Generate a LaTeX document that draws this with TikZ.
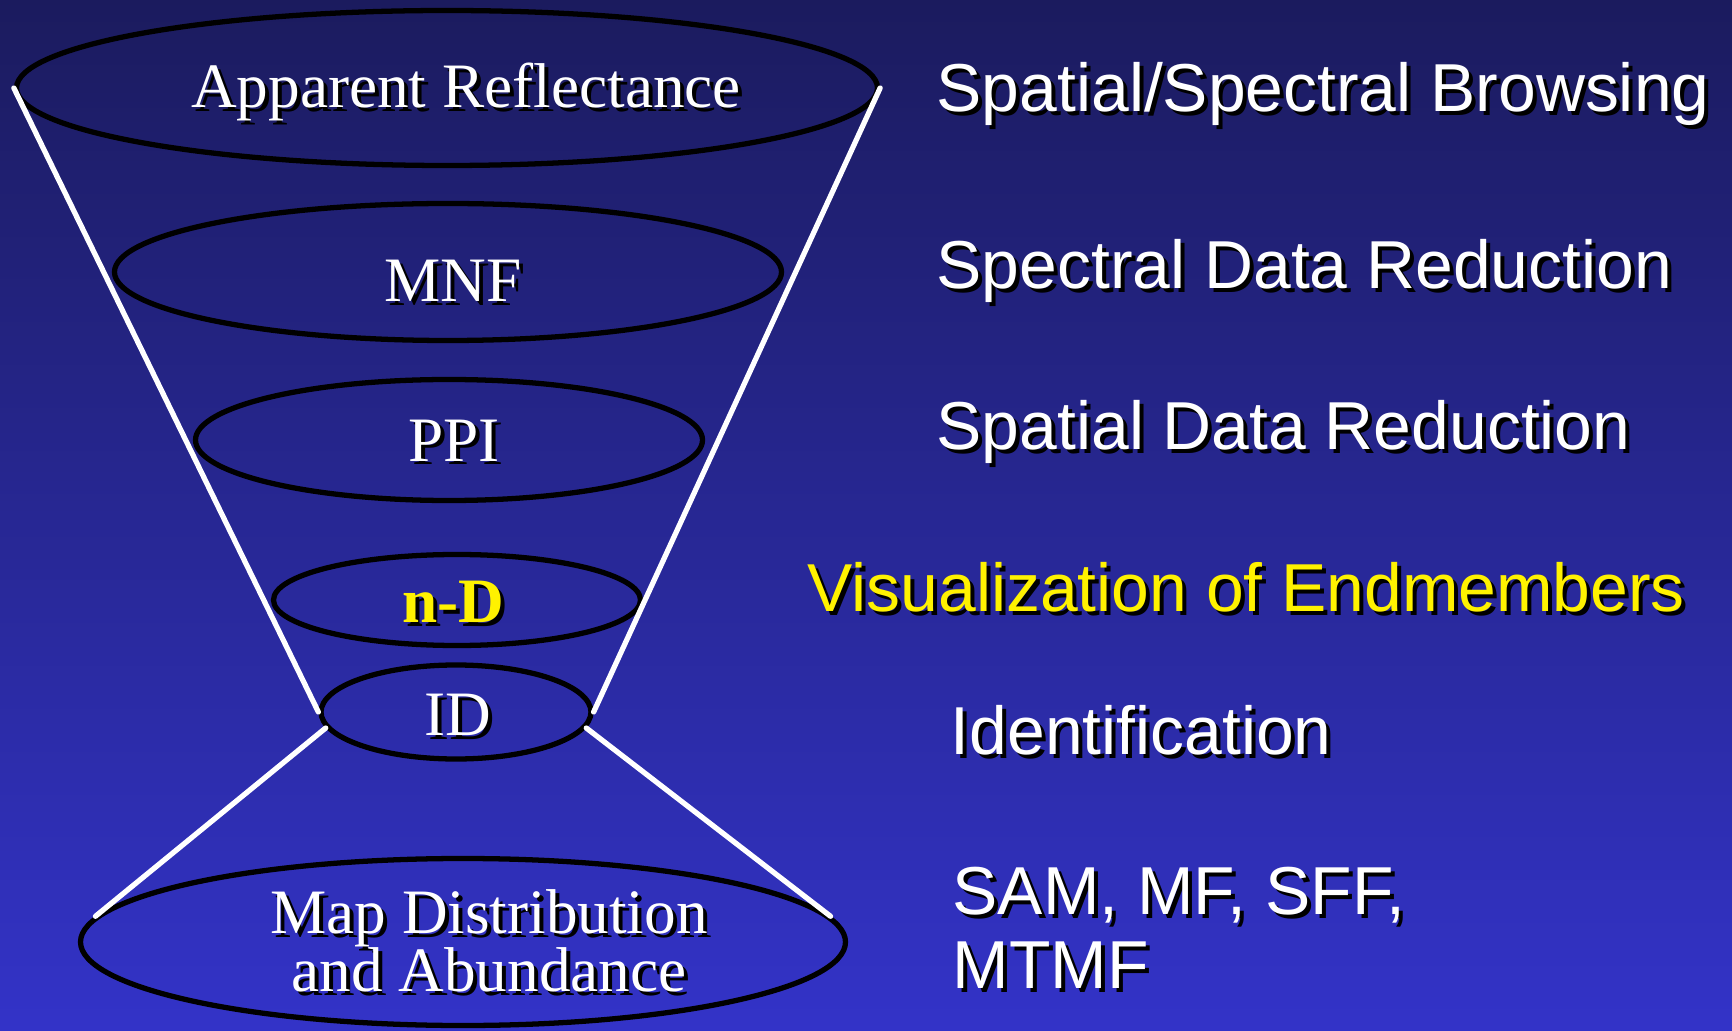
\documentclass[tikz,border=0pt]{standalone}
\usepackage{fontspec}
\setmainfont{Liberation Serif}
\newfontfamily\comicfont{Liberation Sans}
\usetikzlibrary{shapes.geometric}

\definecolor{skytop}{RGB}{27,27,94}
\definecolor{skybot}{RGB}{51,51,200}

\tikzset{
  ring/.style={ellipse,draw=black,line width=1.5pt,inner sep=0pt},
  rim/.style={draw=white,line width=1.5pt},
  stage/.style={anchor=base,text=white,inner sep=0pt,font=\fontsize{18}{20}\selectfont},
  task/.style={anchor=base west,text=white,inner sep=0pt,font=\comicfont\fontsize{19.3}{22}\selectfont},
}
% text with a black drop shadow
\newcommand{\shtext}[4]{%
  \node[#2,text=black,xshift=0.4mm,yshift=-0.4mm] (#1-sh) at (#3) {#4};
  \node[#2] (#1) at (#3) {#4};}

\begin{document}
\begin{tikzpicture}[line cap=round,line join=round]
  \shade[top color=skytop,bottom color=skybot] (0,0) rectangle (17.32,10.30);
  \useasboundingbox (0,0) rectangle (17.32,10.30);

  % funnel rings
  \node[ring,minimum width=8.61cm,minimum height=1.55cm] (top) at (4.47,9.42) {};
  \node[ring,minimum width=6.67cm,minimum height=1.37cm] (mnf) at (4.48,7.58) {};
  \node[ring,minimum width=5.07cm,minimum height=1.21cm] (ppi) at (4.49,5.90) {};
  \node[ring,minimum width=3.67cm,minimum height=0.91cm] (nd) at (4.57,4.30) {};
  \node[ring,minimum width=2.70cm,minimum height=0.94cm] (id) at (4.56,3.18) {};
  \node[ring,minimum width=7.65cm,minimum height=1.67cm] (bot) at (4.63,0.88) {};

  % funnel sides
  \draw[rim] (top.west) -- (id.west);
  \draw[rim] (top.east) -- (id.east);
  \draw[rim] (id.187) -- (bot.176);
  \draw[rim] (id.353) -- (bot.4);

  % ring labels
  \shtext{ar}{stage}{4.66,9.22}{Apparent Reflectance}
  \shtext{mnft}{stage}{4.53,7.28}{MNF}
  \shtext{ppit}{stage}{4.54,5.69}{PPI}
  \shtext{ndt}{stage,text=yellow,font=\bfseries\fontsize{18}{20}\selectfont}{4.53,4.07}{n-D}
  \shtext{idt}{stage}{4.58,2.95}{ID}
  \shtext{map}{stage,align=center,font=\fontsize{18}{16.5}\selectfont}{4.89,0.39}{Map Distribution\\and Abundance}

  % steps on the right
  \shtext{browse}{task}{9.36,9.18}{Spatial/Spectral Browsing}
  \shtext{specred}{task}{9.36,7.41}{Spectral Data Reduction}
  \shtext{spatred}{task}{9.36,5.80}{Spatial Data Reduction}
  \shtext{visual}{task,text=yellow}{8.07,4.19}{Visualization of Endmembers}
  \shtext{ident}{task}{9.50,2.76}{Identification}
  \shtext{sam}{task,align=left,font=\comicfont\fontsize{19.3}{20.8}\selectfont}{9.52,0.42}{SAM, MF, SFF,\\MTMF}
\end{tikzpicture}
\end{document}
